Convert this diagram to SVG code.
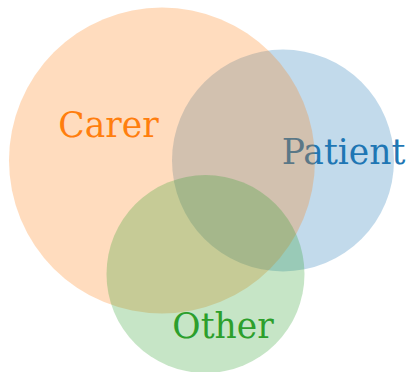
<svg xmlns="http://www.w3.org/2000/svg" width="410" height="372" viewBox="0 0 410 372">
<style>
text{font-family:"DejaVu Serif",serif;font-size:34.5px;text-anchor:middle}
.c{fill-opacity:0.27}
</style>
<rect width="410" height="372" fill="#ffffff"/>
<g id="labels">
<text x="108.5" y="137" fill="#ff7f0e">Carer</text>
<text x="343.5" y="164" fill="#1f77b4">Patient</text>
<text x="223" y="338" fill="#2ca02c">Other</text>
</g>
<g id="patient"><circle class="c" cx="283" cy="160.5" r="111" fill="#1f77b4"/></g>
<g id="carer"><circle class="c" cx="162" cy="160.5" r="153" fill="#ff7f0e"/></g>
<g id="other"><circle class="c" cx="205.5" cy="274" r="99" fill="#2ca02c"/></g>
<g id="connectors"></g>
</svg>
